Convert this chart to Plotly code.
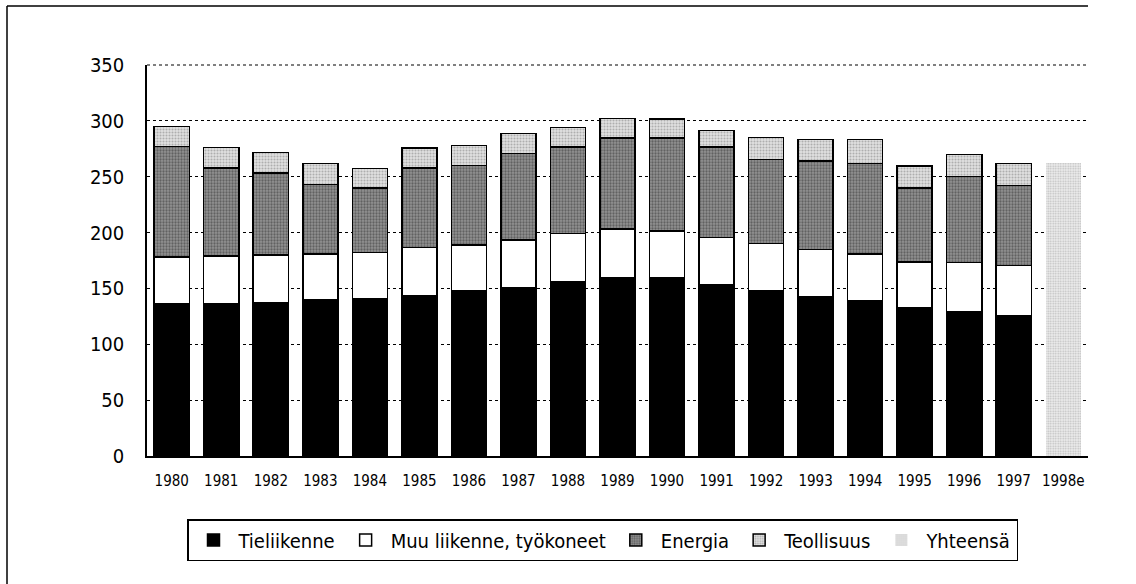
import plotly.graph_objects as go

years = ["1980", "1981", "1982", "1983", "1984", "1985", "1986", "1987", "1988", "1989",
         "1990", "1991", "1992", "1993", "1994", "1995", "1996", "1997", "1998e"]
tieliikenne = [136, 136, 137.5, 140, 141, 143.5, 148, 151, 156, 160,
               159.5, 153.5, 147.5, 142.5, 139, 132.5, 129, 125.5, None]
muu_liikenne = [42, 43, 42.5, 41, 41, 43, 41, 42.5, 43, 43,
                42, 42, 42.5, 42.5, 42, 41, 44, 45, None]
energia = [99, 79, 73.5, 62, 58, 71.5, 71, 77.5, 77.5, 81.5,
           83, 81, 75.5, 79, 81, 66.5, 77, 71.5, None]
teollisuus = [18, 18, 18, 19, 17.5, 17.5, 18, 17.5, 17.5, 17.5,
              17, 15, 19.5, 19.5, 21.5, 19.5, 20, 20, None]
yhteensa = [None] * 18 + [262]

FONT = "DejaVu Sans Condensed, Liberation Sans Narrow, Roboto, Arial, sans-serif"

fig = go.Figure()
line = dict(color="black", width=1.5)
fig.add_trace(go.Bar(x=years, y=tieliikenne, name="Tieliikenne",
                     marker=dict(color="black", line=line)))
fig.add_trace(go.Bar(x=years, y=muu_liikenne, name="Muu liikenne, työkoneet",
                     marker=dict(color="white", line=line)))
fig.add_trace(go.Bar(x=years, y=energia, name="Energia",
                     marker=dict(color="#808080", line=line,
                                 pattern=dict(shape=".", fgcolor="#303030", bgcolor="#929292",
                                              size=3, solidity=0.45))))
fig.add_trace(go.Bar(x=years, y=teollisuus, name="Teollisuus",
                     marker=dict(color="#cfcfcf", line=line,
                                 pattern=dict(shape=".", fgcolor="#7a7a7a", bgcolor="#e2e2e2",
                                              size=3, solidity=0.4))))
fig.add_trace(go.Bar(x=years, y=yhteensa, name="Yhteensä",
                     marker=dict(color="#d8d8d8", line=dict(width=0),
                                 pattern=dict(shape=".", fgcolor="#8c8c8c", bgcolor="#eeeeee",
                                              size=2.5, solidity=0.4))))

PW, PH = 941, 391
fx = lambda px: (px - 147) / PW
fy = lambda py: (456 - py) / PH

fig.update_layout(
    barmode="stack",
    bargap=0.29,
    width=1136, height=584,
    margin=dict(l=147, r=48, t=65, b=128),
    plot_bgcolor="white", paper_bgcolor="white",
    font=dict(family=FONT, color="black"),
    showlegend=True,
    legend=dict(orientation="h", x=fx(187), y=fy(519), xanchor="left", yanchor="top",
                bordercolor="black", borderwidth=1.5, font=dict(size=20, family=FONT),
                traceorder="normal", itemwidth=40),
    xaxis=dict(showline=True, linecolor="black", linewidth=1.5, ticks="",
               tickfont=dict(size=15, family=FONT), showgrid=False, ticklabelstandoff=10),
    yaxis=dict(range=[0, 350], dtick=50, showline=True, linecolor="black", linewidth=1.5,
               showgrid=True, gridcolor="black", gridwidth=1, griddash="dot",
               tickfont=dict(size=20, family=FONT), ticks="", ticklabelstandoff=17),
    shapes=[
        dict(type="line", xref="paper", yref="paper", x0=0, x1=1, y0=1, y1=1,
             line=dict(color="black", width=1, dash="dot")),
        dict(type="line", xref="paper", yref="paper",
             x0=fx(7), x1=fx(1088), y0=fy(6), y1=fy(6),
             line=dict(color="black", width=1.5)),
        dict(type="line", xref="paper", yref="paper",
             x0=fx(7), x1=fx(7), y0=fy(6), y1=fy(584),
             line=dict(color="black", width=1.5)),
    ],
)

fig.write_html("out.html", config={"displayModeBar": False},
               post_script="document.body.style.margin='0';document.body.style.padding='0';")
